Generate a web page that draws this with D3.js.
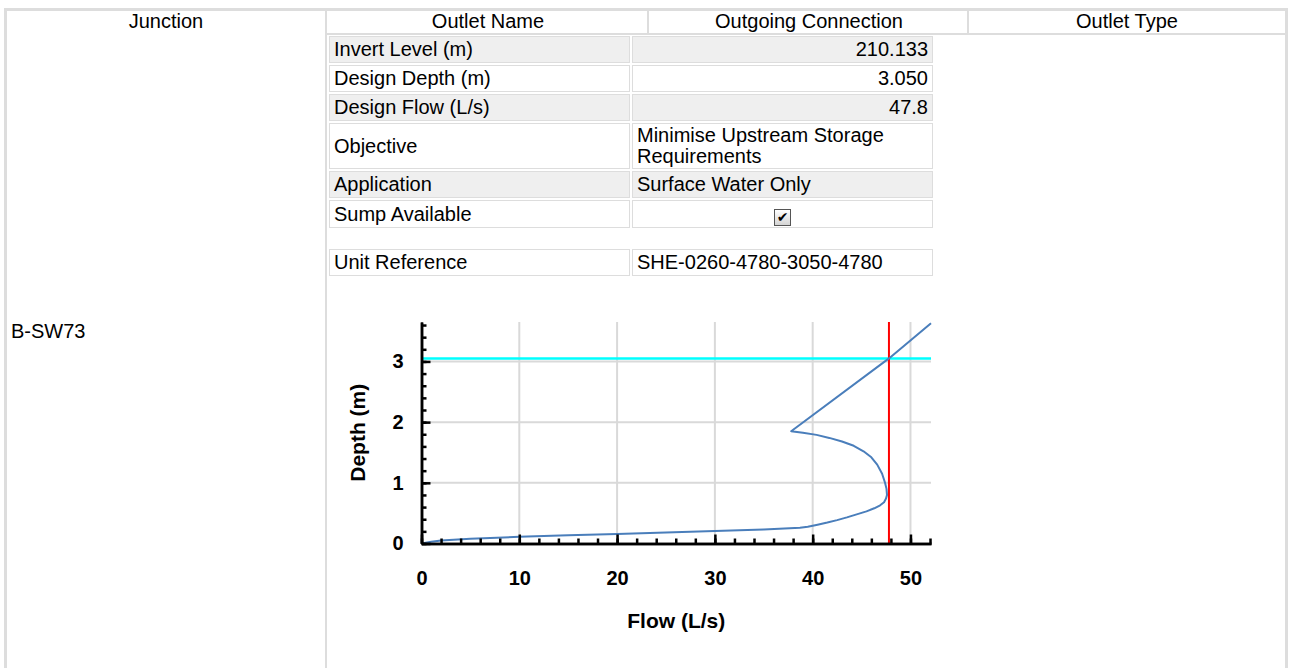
<!DOCTYPE html>
<html>
<head>
<meta charset="utf-8">
<script src="https://cdnjs.cloudflare.com/ajax/libs/d3/7.8.5/d3.min.js"></script>
<style>
    body {
        margin: 0;
        font-family: "Liberation Sans", Arial, Helvetica, sans-serif;
        font-size: 20px;
        background: #fff;
        overflow: hidden;
    }

    #frame {
        position: absolute;
        left: 4px;
        top: 8px;
        width: 1278px;
        height: 700px;
        border: 3px solid #ddd;
        border-bottom: none;
    }

    .hdr {
        position: absolute;
        top: 11px;
        height: 22px;
        line-height: 21px;
        text-align: center;
    }

    .vline {
        position: absolute;
        background: #ddd;
    }

    #junction {
        position: absolute;
        left: 11px;
        top: 320px;
    }

    #props {
        position: absolute;
        left: 327px;
        top: 34px;
        width: 608px;
        border-collapse: separate;
        border-spacing: 2px;
        table-layout: fixed;
    }

    #props td {
        border: 1px solid #ddd;
        padding: 1px 4px;
        line-height: 23px;
        vertical-align: middle;
    }

    #props tr.two td {
        line-height: 21px;
    }

    #props tr.odd td {
        background: #efefef;
    }

    #props tr.spacer td {
        border: none;
        height: 17px;
        padding: 0;
        background: #fff;
    }

    #props td.num {
        text-align: right;
    }

    #props td.chk {
        text-align: center;
    }

    .box {
        display: inline-block;
        width: 15px;
        height: 15px;
        border: 1px solid #555;
        background: linear-gradient(#fff, #d4d4d4);
        font-family: "DejaVu Sans", sans-serif;
        font-weight: bold;
        font-size: 14px;
        line-height: 15px;
        text-align: center;
        vertical-align: -2px;
    }

    #chart {
        position: absolute;
        left: 330px;
        top: 285px;
    }

    #chart text {
        font-family: "Liberation Sans", Arial, sans-serif;
        font-weight: bold;
    }
</style>
</head>
<body>
<div id="frame"></div>
<div id="page"></div>
<svg id="chart" width="620" height="380"></svg>

<script>
    // table content
    let headers = ["Junction", "Outlet Name", "Outgoing Connection", "Outlet Type"];
    let junctionName = "B-SW73";
    let propLabels = ["Invert Level (m)", "Design Depth (m)", "Design Flow (L/s)", "Objective",
        "Application", "Sump Available", "", "Unit Reference"];
    let propValues = ["210.133", "3.050", "47.8", "Minimise Upstream Storage Requirements",
        "Surface Water Only", "check", "", "SHE-0260-4780-3050-4780"];

    // head/discharge curve
    let flow = [0, 1, 2, 5, 10, 15, 20, 25, 30, 35, 38.7, 39.5, 40.5, 41.5, 42.5, 43.5, 44.5, 45.5, 46.3,
        46.9, 47.3, 47.5, 47.6, 47.55, 47.4, 47.1, 46.6, 46.0, 45.2, 44.2, 43.0, 41.7, 40.4, 39.0, 37.8,
        47.8, 52.1];
    let depth = [0, 0.03, 0.05, 0.08, 0.11, 0.135, 0.155, 0.18, 0.205, 0.23, 0.26, 0.275, 0.31, 0.345,
        0.385, 0.43, 0.48, 0.53, 0.58, 0.63, 0.68, 0.74, 0.8, 0.9, 1.0, 1.15, 1.3, 1.42, 1.52, 1.61, 1.68,
        1.74, 1.79, 1.825, 1.85, 3.05, 3.63];
    let designFlow = 47.8;
    let designDepth = 3.05;
    let xTicks = [0, 10, 20, 30, 40, 50];
    let yTicks = [0, 1, 2, 3];

    // ---- table ----
    var colEdges = [7, 327, 649, 969, 1285];
    var page = d3.select("#page");

    page.selectAll("div.hdr")
        .data(headers)
        .enter()
        .append("div")
        .attr("class", "hdr")
        .style("left", (d, i) => (colEdges[i] - (i ? 2 : 0)) + "px")
        .style("width", (d, i) => (colEdges[i + 1] - colEdges[i] - (i ? 0 : 2)) + "px")
        .style("border-left", (d, i) => i ? "2px solid #ddd" : "none")
        .text(d => d);

    // line under the header cells and the divider after Junction
    page.append("div").attr("class", "vline")
        .style("left", "325px").style("top", "33px").style("width", "960px").style("height", "2px");
    page.append("div").attr("class", "vline")
        .style("left", "325px").style("top", "11px").style("width", "2px").style("height", "660px");

    page.append("div").attr("id", "junction").text(junctionName);

    var rows = d3.select("#page").append("table").attr("id", "props")
        .selectAll("tr")
        .data(propLabels.map((l, i) => ({ label: l, value: propValues[i] })))
        .enter()
        .append("tr")
        .attr("class", (d, i) => d.label === "" ? "spacer" :
            (i % 2 === 0 ? "odd" : "even") + (d.value.length > 30 ? " two" : ""));

    rows.append("td").style("width", "291px").text(d => d.label);
    rows.append("td")
        .attr("class", (d, i) => i < 3 ? "num" : (d.value === "check" ? "chk" : ""))
        .each(function(d) {
            if (d.value === "check") {
                d3.select(this).append("span").attr("class", "box").text("\u2714");
            } else {
                d3.select(this).text(d.value);
            }
        });

    // ---- chart ----
    var svg = d3.select("#chart");
    var mLeft = 91.5, mTop = 37, mRight = 601, mBottom = 258.5;

    var x = d3.scaleLinear().domain([0, 52.1]).range([mLeft, mRight]);
    var y = d3.scaleLinear().domain([0, 3.65]).range([mBottom, mTop]);

    var grid = svg.append("g");
    grid.selectAll("line.vx")
        .data(xTicks.slice(1))
        .enter().append("line")
        .attr("class", "vx")
        .attr("x1", d => x(d)).attr("x2", d => x(d))
        .attr("y1", mTop).attr("y2", mBottom)
        .attr("stroke", "#d9d9d9").attr("stroke-width", 2);
    grid.selectAll("line.hy")
        .data(yTicks.slice(1))
        .enter().append("line")
        .attr("class", "hy")
        .attr("x1", mLeft).attr("x2", mRight)
        .attr("y1", d => y(d)).attr("y2", d => y(d))
        .attr("stroke", "#d9d9d9").attr("stroke-width", 2);

    svg.append("line")
        .attr("x1", mLeft).attr("x2", mRight)
        .attr("y1", y(designDepth)).attr("y2", y(designDepth))
        .attr("stroke", "#00ffff").attr("stroke-width", 2.5);

    svg.append("line")
        .attr("x1", x(designFlow)).attr("x2", x(designFlow))
        .attr("y1", mTop).attr("y2", mBottom)
        .attr("stroke", "#ff0000").attr("stroke-width", 2);

    var pts = flow.map((f, i) => [f, depth[i]]);
    var line = d3.line()
        .x(d => x(d[0]))
        .y(d => y(d[1]));

    svg.append("path")
        .datum(pts)
        .attr("d", line)
        .attr("fill", "none")
        .attr("stroke", "#4a7ebb")
        .attr("stroke-width", 2)
        .attr("stroke-linejoin", "round");

    // minor ticks
    var xMinor = d3.range(0, 53, 2);
    var yMinor = d3.range(0, 3.61, 0.2);

    svg.append("g")
        .attr("transform", "translate(0," + mBottom + ")")
        .call(d3.axisBottom(x).tickValues(xMinor).tickSize(-5).tickSizeOuter(0).tickFormat(""))
        .call(g => g.selectAll("line,path").attr("stroke-width", 2.5));
    svg.append("g")
        .attr("transform", "translate(" + mLeft + ",0)")
        .call(d3.axisLeft(y).tickValues(yMinor).tickSize(-5).tickSizeOuter(0).tickFormat(""))
        .call(g => g.selectAll("line,path").attr("stroke-width", 2.5));

    // major ticks + labels
    svg.append("g")
        .attr("transform", "translate(0," + mBottom + ")")
        .call(d3.axisBottom(x).tickValues(xTicks).tickSize(-9).tickSizeOuter(0).tickPadding(27).tickFormat(d3.format("d")))
        .call(g => g.selectAll("line,path").attr("stroke-width", 2.5))
        .call(g => g.selectAll("text").attr("font-size", 20).attr("fill", "#000"));
    svg.append("g")
        .attr("transform", "translate(" + mLeft + ",0)")
        .call(d3.axisLeft(y).tickValues(yTicks).tickSize(-9).tickSizeOuter(0).tickPadding(18).tickFormat(d3.format("d")))
        .call(g => g.selectAll("line,path").attr("stroke-width", 2.5))
        .call(g => g.selectAll("text").attr("font-size", 20).attr("fill", "#000"));

    svg.append("text")
        .attr("x", (mLeft + mRight) / 2)
        .attr("y", mBottom + 84)
        .attr("text-anchor", "middle")
        .attr("font-size", 21)
        .text("Flow (L/s)");

    svg.append("text")
        .attr("transform", "translate(" + (mLeft - 57) + "," + ((mTop + mBottom) / 2) + ") rotate(-90)")
        .attr("text-anchor", "middle")
        .attr("font-size", 21)
        .text("Depth (m)");
</script>
</body>
</html>
